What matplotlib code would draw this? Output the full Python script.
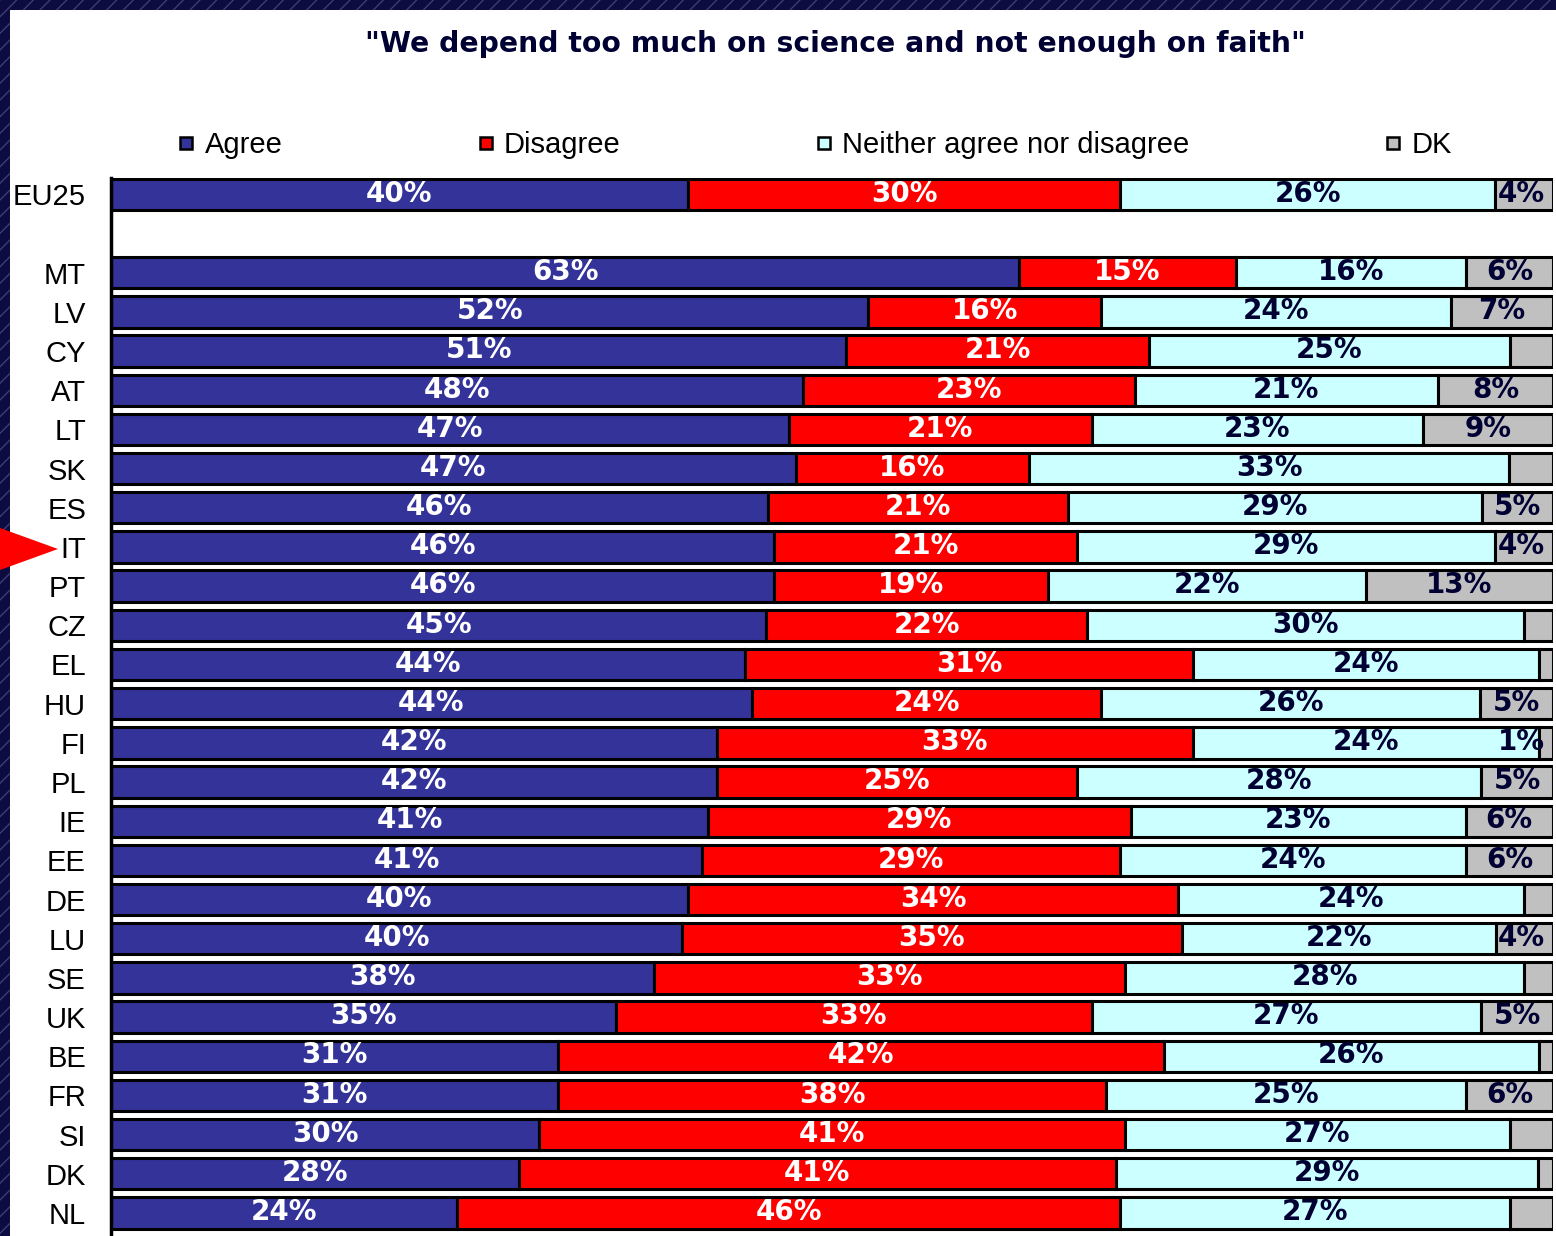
import matplotlib
matplotlib.use('Agg')
import matplotlib.pyplot as plt
from matplotlib.patches import Rectangle, Polygon
from matplotlib.lines import Line2D
import numpy as np

countries = ["EU25", "MT", "LV", "CY", "AT", "LT", "SK", "ES", "IT", "PT", "CZ", "EL", "HU",
             "FI", "PL", "IE", "EE", "DE", "LU", "SE", "UK", "BE", "FR", "SI", "DK", "NL"]
agree    = [40, 63, 52, 51, 48, 47, 47, 46, 46, 46, 45, 44, 44, 42, 42, 41, 41, 40, 40, 38, 35, 31, 31, 30, 28, 24]
disagree = [30, 15, 16, 21, 23, 21, 16, 21, 21, 19, 22, 31, 24, 33, 25, 29, 29, 34, 35, 33, 33, 42, 38, 41, 41, 46]
neither  = [26, 16, 24, 25, 21, 23, 33, 29, 29, 22, 30, 24, 26, 24, 28, 23, 24, 24, 22, 28, 27, 26, 25, 27, 29, 27]
dk       = [4, 6, 7, 3, 8, 9, 3, 5, 4, 13, 2, 1, 5, 1, 5, 6, 6, 2, 4, 2, 5, 1, 6, 3, 1, 3]
dk_hidden = ["CY", "SK", "CZ", "EL", "DE", "SE", "BE", "SI", "DK", "NL"]

series = [("Agree", agree, "#333399", "white"),
          ("Disagree", disagree, "#ff0000", "white"),
          ("Neither agree nor disagree", neither, "#ccffff", "#000033"),
          ("DK", dk, "#c0c0c0", "#000033")]

title = '"We depend too much on science and not enough on faith"'

# EU25 on its own, then a gap of one row before the countries
ypos = np.array([0] + list(range(2, len(countries) + 1)))

# 100% stacked: each row scaled to its own total
totals = np.array(agree) + np.array(disagree) + np.array(neither) + np.array(dk)

fig = plt.figure(figsize=(15.56, 12.36), dpi=100)
fig.patch.set_facecolor("#0c0c40")
fig.patches.append(Rectangle((0, 0), 1, 1, transform=fig.transFigure, facecolor="#0c0c40",
                             edgecolor="#3c3c78", hatch="//", lw=0, zorder=-3))
fig.patches.append(Rectangle((10 / 1556, 0), 1, 1 - 10 / 1236, transform=fig.transFigure,
                             facecolor="white", edgecolor="none", zorder=-2))

ax = fig.add_axes([111 / 1556, 0, 1442 / 1556, 1 - 178 / 1236])
ax.set_facecolor("none")

left = np.zeros(len(countries))
for name, vals, col, tcol in series:
    raw = np.array(vals, dtype=float)
    w = raw / totals * 100
    ax.barh(ypos, w, left=left, height=0.8, color=col, edgecolor="black", linewidth=2.2)
    for i, v in enumerate(raw):
        if name == "DK" and countries[i] in dk_hidden:
            continue
        xc = left[i] + w[i] / 2
        if name == "DK":
            xc = min(xc, 97.8)
        ax.text(xc, ypos[i] - 0.02, "%d%%" % v, ha="center", va="center", color=tcol,
                fontsize=20, fontweight="bold", family="DejaVu Sans")
    left += w

ax.set_xlim(0, 100)
ax.set_ylim(26.59, -0.42)
ax.set_xticks([])
ax.set_yticks(ypos)
ax.set_yticklabels(countries, family="Liberation Sans", fontsize=21)
ax.tick_params(axis="y", length=0, pad=18)
for s in ["top", "right", "bottom"]:
    ax.spines[s].set_visible(False)
ax.spines["left"].set_linewidth(2.5)
ax.spines["left"].set_color("black")

handles = [Line2D([], [], ls="none", marker="s", markersize=8, markerfacecolor=c,
                  markeredgecolor="black", markeredgewidth=1.8) for _, _, c, _ in series]
fig.legend(handles, [s[0] for s in series], ncol=4, loc="center left",
           bbox_to_anchor=(152 / 1556, 1 - 145 / 1236), frameon=False,
           prop={"family": "Liberation Sans", "size": 21},
           handlelength=0.55, handletextpad=0.35, columnspacing=6.7)

fig.text(835 / 1556, 1 - 44 / 1236, title, ha="center", va="center", fontsize=20.3,
         fontweight="bold", family="DejaVu Sans", color="#000033")

# red pointer at IT
fig.patches.append(Polygon([[0, 1 - 528 / 1236], [0, 1 - 570 / 1236], [58 / 1556, 1 - 549 / 1236]],
                           closed=True, transform=fig.transFigure, facecolor="red",
                           edgecolor="none", zorder=5))

fig.savefig("out.png", dpi=100, facecolor=fig.get_facecolor())
